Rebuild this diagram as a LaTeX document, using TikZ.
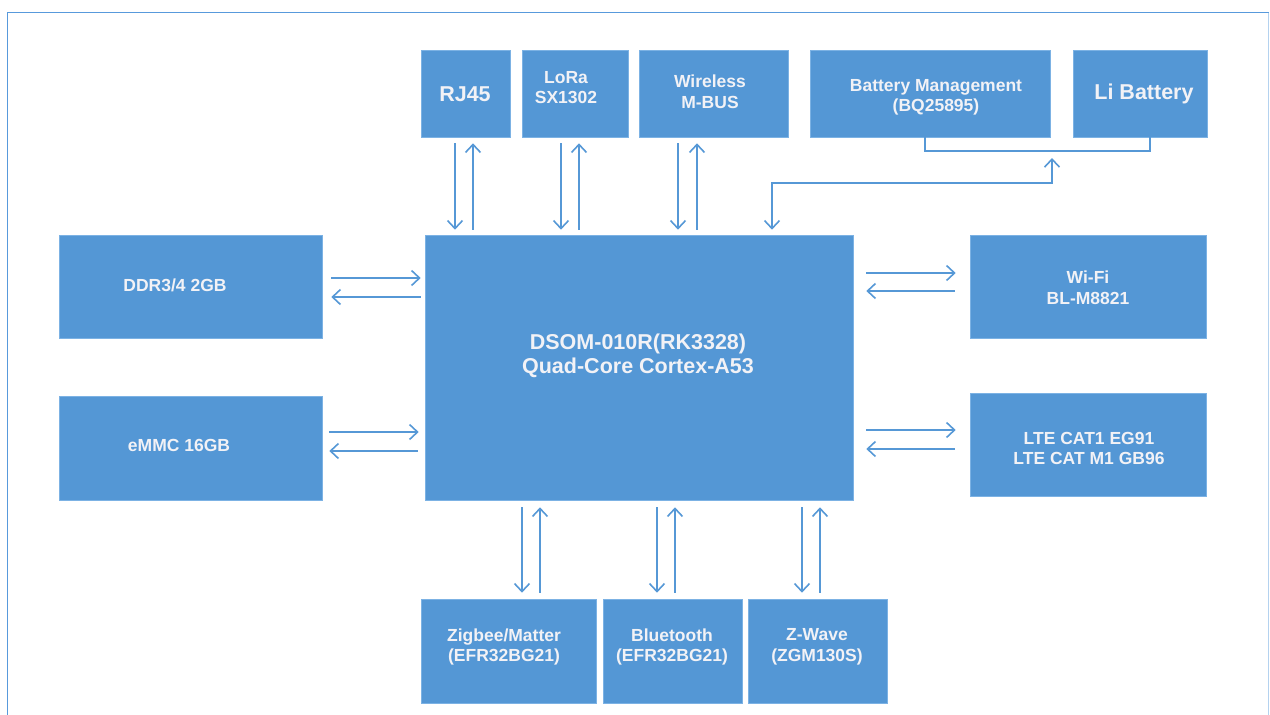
\documentclass[tikz,border=0pt]{standalone}
\usepackage{fontspec}
\setmainfont{Liberation Sans}
\usetikzlibrary{arrows.meta}
\definecolor{boxblue}{RGB}{84,151,213}
\definecolor{edgeblue}{RGB}{124,178,228}
\definecolor{lineblue}{RGB}{86,152,214}
\definecolor{textwhite}{RGB}{242,242,246}
\definecolor{frameblue}{RGB}{88,154,220}

\begin{document}
\begin{tikzpicture}[x=1pt, y=-1pt,
	box/.style={rectangle, fill=boxblue, draw=edgeblue, line width=0.6pt, inner sep=0pt},
	lbl/.style={text=textwhite, align=center, font=\bfseries\fontsize{17.5}{20.5}\selectfont},
	biglbl/.style={text=textwhite, align=center, font=\bfseries\fontsize{21.5}{23.5}\selectfont},
	link/.style={draw=lineblue, line width=1.6pt},
	arr/.style={link, -{Straight Barb[length=8pt,width=15pt]}},
	arrs/.style={link, {Straight Barb[length=8pt,width=15pt]}-{Straight Barb[length=8pt,width=15pt]}}]
	\useasboundingbox (0,0) rectangle (1270,715);
	\draw[frameblue, line width=1.5pt] (7.5,715) -- (7.5,12.5) -- (1268.5,12.5);
	\draw[frameblue!45, line width=1.5pt] (1268.5,12.5) -- (1268.5,715);

	\node[box, minimum width=89, minimum height=87] (rj) at (465.5,93.5) {};
	\node[box, minimum width=106, minimum height=87] (lora) at (575,93.5) {};
	\node[box, minimum width=149, minimum height=87] (mbus) at (713.5,93.5) {};
	\node[box, minimum width=240, minimum height=87] (bms) at (930,93.5) {};
	\node[box, minimum width=134, minimum height=87] (bat) at (1140,93.5) {};
	\node[box, minimum width=263, minimum height=103] (ddr) at (190.5,286.5) {};
	\node[box, minimum width=263, minimum height=104] (emmc) at (190.5,448) {};
	\node[box, minimum width=428, minimum height=265] (soc) at (639,367.5) {};
	\node[box, minimum width=236, minimum height=103] (wifi) at (1088,286.5) {};
	\node[box, minimum width=236, minimum height=103] (lte) at (1088,444.5) {};
	\node[box, minimum width=175, minimum height=104] (zig) at (508.5,651) {};
	\node[box, minimum width=139, minimum height=104] (bt) at (672.5,651) {};
	\node[box, minimum width=139, minimum height=104] (zw) at (817.5,651) {};

	\node[biglbl] (rjt) at (465,94) {RJ45};
	\node[lbl] (lorat) at (566,87.5) {LoRa\\SX1302};
	\node[lbl] (mbust) at (710,91.5) {Wireless\\M-BUS};
	\node[lbl] (bmst) at (936,97.5) {Battery Management\\(BQ25895)};
	\node[biglbl] (batt) at (1144,94) {Li Battery};
	\node[lbl] (ddrt) at (175,285) {DDR3/4 2GB};
	\node[lbl] (emmct) at (179,445) {eMMC 16GB};
	\node[biglbl] (soct) at (638,356) {DSOM-010R(RK3328)\\Quad-Core Cortex-A53};
	\node[lbl] (wifit) at (1088,287.5) {Wi-Fi\\BL-M8821};
	\node[lbl] (ltet) at (1089,448.5) {LTE CAT1 EG91\\LTE CAT M1 GB96};
	\node[lbl] (zigt) at (504,647) {Zigbee/Matter\\(EFR32BG21)};
	\node[lbl] (btt) at (672,647) {Bluetooth\\(EFR32BG21)};
	\node[lbl] (zwt) at (817,647) {Z-Wave\\(ZGM130S)};

	\draw[arr, shorten <=6pt, shorten >=5pt] ([xshift=-10.5pt]rj.south) -- ([xshift=-10.5pt]rj.south |- soc.north);
	\draw[arr, shorten <=5pt, shorten >=6pt] ([xshift=7.5pt]rj.south |- soc.north) -- ([xshift=7.5pt]rj.south);
	\draw[arr, shorten <=6pt, shorten >=5pt] ([xshift=-14pt]lora.south) -- ([xshift=-14pt]lora.south |- soc.north);
	\draw[arr, shorten <=5pt, shorten >=6pt] ([xshift=4pt]lora.south |- soc.north) -- ([xshift=4pt]lora.south);
	\draw[arr, shorten <=6pt, shorten >=5pt] ([xshift=-35.5pt]mbus.south) -- ([xshift=-35.5pt]mbus.south |- soc.north);
	\draw[arr, shorten <=5pt, shorten >=6pt] ([xshift=-16.5pt]mbus.south |- soc.north) -- ([xshift=-16.5pt]mbus.south);

	\coordinate (tap) at (1052,151);
	\coordinate (bend) at (1052,183);
	\draw[link] ([xshift=-5pt]bms.south) |- (tap) -| ([xshift=10pt]bat.south);
	\draw[arrs, shorten <=7pt, shorten >=5pt] (tap) -- (bend) -| ([xshift=133pt]soc.north);

	\draw[arr, shorten <=9pt, shorten >=4pt] ([yshift=8.5pt]ddr.east) -- ([yshift=8.5pt]ddr.east -| soc.west);
	\draw[arr, shorten <=4pt, shorten >=9pt] ([yshift=-10.5pt]ddr.east -| soc.west) -- ([yshift=-10.5pt]ddr.east);
	\draw[arr, shorten <=7pt, shorten >=6pt] ([yshift=16pt]emmc.east) -- ([yshift=16pt]emmc.east -| soc.west);
	\draw[arr, shorten <=7pt, shorten >=7pt] ([yshift=-3pt]emmc.east -| soc.west) -- ([yshift=-3pt]emmc.east);

	\draw[arr, shorten <=13pt, shorten >=14pt] ([yshift=13.5pt]wifi.west -| soc.east) -- ([yshift=13.5pt]wifi.west);
	\draw[arr, shorten <=15pt, shorten >=13pt] ([yshift=-4.5pt]wifi.west) -- ([yshift=-4.5pt]wifi.west -| soc.east);
	\draw[arr, shorten <=13pt, shorten >=14pt] ([yshift=14.5pt]lte.west -| soc.east) -- ([yshift=14.5pt]lte.west);
	\draw[arr, shorten <=15pt, shorten >=13pt] ([yshift=-4.5pt]lte.west) -- ([yshift=-4.5pt]lte.west -| soc.east);

	\draw[arr, shorten <=7pt, shorten >=6pt] ([xshift=13.5pt]zig.north |- soc.south) -- ([xshift=13.5pt]zig.north);
	\draw[arr, shorten <=6pt, shorten >=7pt] ([xshift=31.5pt]zig.north) -- ([xshift=31.5pt]zig.north |- soc.south);
	\draw[arr, shorten <=7pt, shorten >=6pt] ([xshift=-15.5pt]bt.north |- soc.south) -- ([xshift=-15.5pt]bt.north);
	\draw[arr, shorten <=6pt, shorten >=7pt] ([xshift=2.5pt]bt.north) -- ([xshift=2.5pt]bt.north |- soc.south);
	\draw[arr, shorten <=7pt, shorten >=6pt] ([xshift=-15.5pt]zw.north |- soc.south) -- ([xshift=-15.5pt]zw.north);
	\draw[arr, shorten <=6pt, shorten >=7pt] ([xshift=2.5pt]zw.north) -- ([xshift=2.5pt]zw.north |- soc.south);
\end{tikzpicture}
\end{document}
